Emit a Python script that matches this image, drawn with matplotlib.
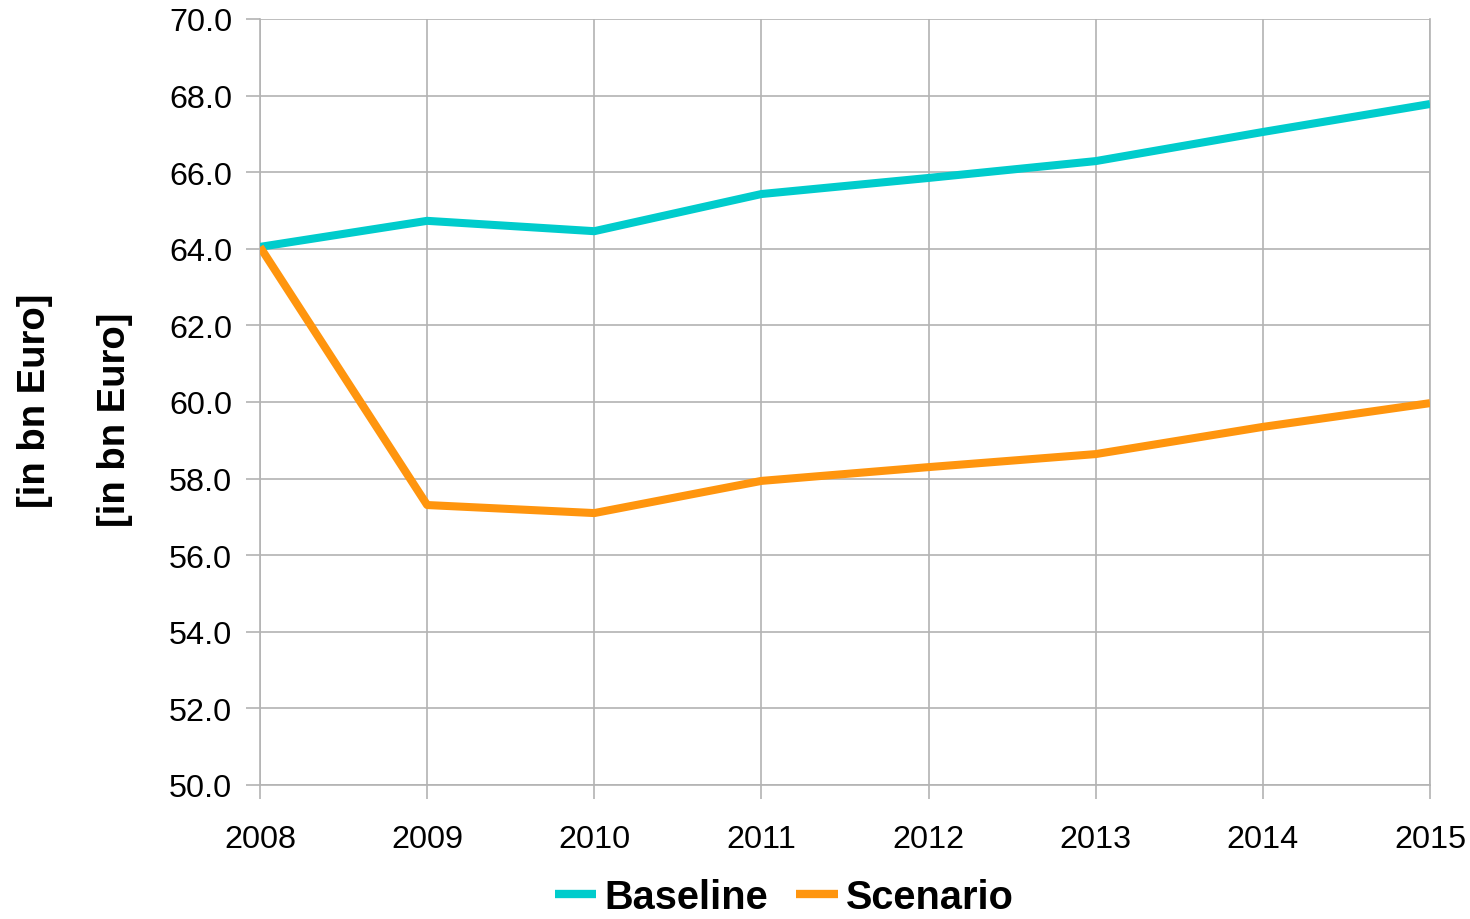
import matplotlib
matplotlib.use("Agg")
import matplotlib.pyplot as plt

years = [2008, 2009, 2010, 2011, 2012, 2013, 2014, 2015]
baseline = [64.05, 64.73, 64.46, 65.43, 65.85, 66.29, 67.05, 67.78]
scenario = [64.05, 57.31, 57.10, 57.94, 58.30, 58.64, 59.35, 59.97]
yticks = [50.0, 52.0, 54.0, 56.0, 58.0, 60.0, 62.0, 64.0, 66.0, 68.0, 70.0]

plt.rcParams['font.family'] = ['Liberation Sans', 'DejaVu Sans']

W, H = 1470, 920
fig = plt.figure(figsize=(W / 100, H / 100), dpi=100)
ax = fig.add_axes([260 / W, 1 - 786 / H, (1430 - 260) / W, (786 - 20) / H])

grid_c = '#b3b3b3'
ax.plot(years, baseline, color='#00CCCC', lw=5.8, label='Baseline', solid_capstyle='butt', zorder=3)
ax.plot(years, scenario, color='#FF950E', lw=5.8, label='Scenario', solid_capstyle='butt', zorder=3)

ax.set_xlim(2008, 2015)
ax.set_ylim(50, 70)
ax.set_yticks(yticks)
ax.set_yticklabels([f"{v:.1f}" for v in yticks])
ax.set_xticks(years)
ax.set_xticklabels([str(y) for y in years])
ax.grid(True, color=grid_c, lw=1.2)
for s in ax.spines.values():
    s.set_color(grid_c)
    s.set_linewidth(1.2)
ax.spines['top'].set_visible(False)
ax.tick_params(axis='both', colors=grid_c, length=10, width=1.2, labelcolor='black', labelsize=23.3)
ax.tick_params(axis='y', pad=10)
ax.tick_params(axis='x', pad=18)

fig.text(35 / W, 1 - 401 / H, '[in bn Euro]', rotation=90, fontsize=27.5, fontweight='bold',
         ha='center', va='center')
fig.text(115 / W, 1 - 420 / H, '[in bn Euro]', rotation=90, fontsize=27.5, fontweight='bold',
         ha='center', va='center')

leg = fig.legend(loc='center', bbox_to_anchor=(784 / W, 1 - 898 / H), ncol=2, frameon=False,
                 prop={'size': 28.6, 'weight': 'bold'}, handlelength=1.05, handletextpad=0.2,
                 columnspacing=0.7, borderpad=0.1)
for l in leg.get_lines():
    l.set_linewidth(6)
    l.set_solid_capstyle('butt')

fig.savefig('out.png', dpi=100)
